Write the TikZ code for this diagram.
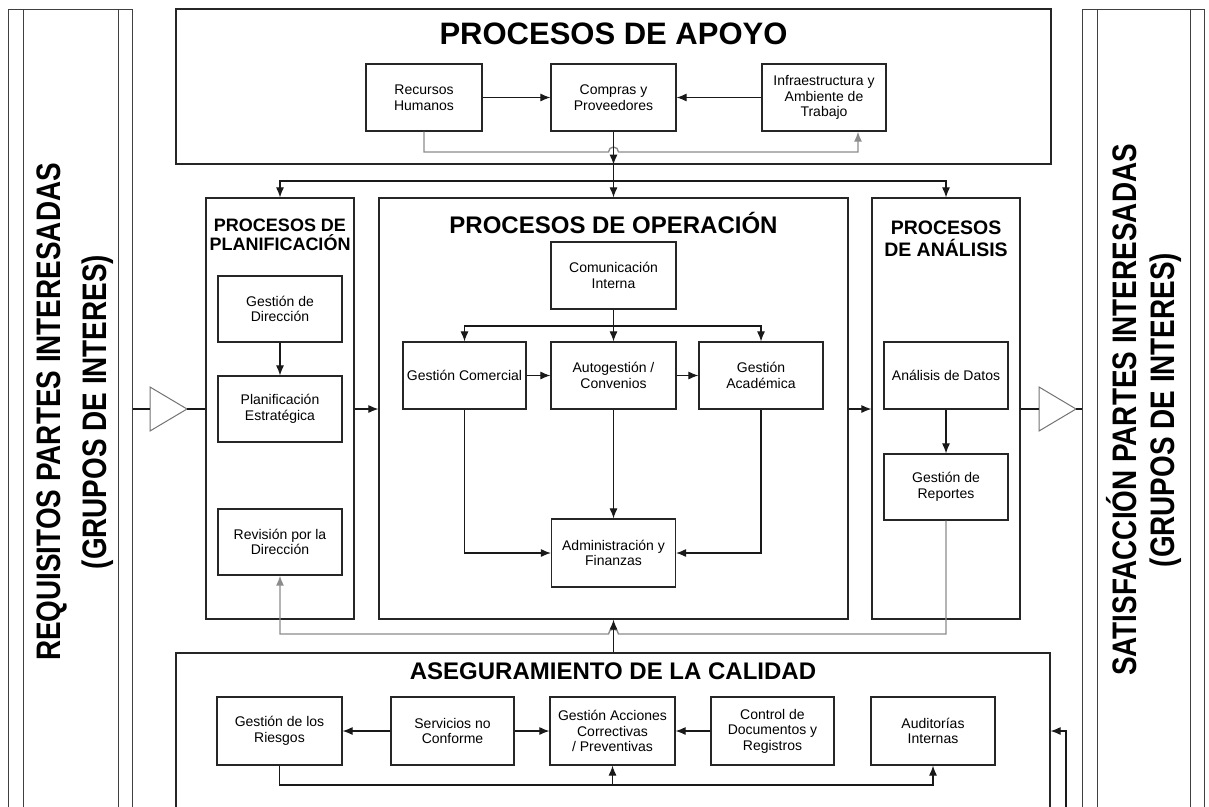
\documentclass[tikz,border=0pt]{standalone}
\usepackage{fontspec}
\setmainfont{Liberation Sans}
\newfontfamily\narrowfont[FakeStretch=0.82]{Liberation Sans}
\usetikzlibrary{arrows.meta,positioning,calc}

\begin{document}
\begin{tikzpicture}[x=1pt,y=-1pt,
    proc/.style={draw=black!85,line width=1.2pt,fill=white,align=center,inner sep=1pt,
      minimum width=124pt,minimum height=67pt,font=\fontsize{14}{15.5}\selectfont},
    area/.style={draw=black!85,line width=1.2pt,inner sep=0pt},
    band/.style={draw=black!75,line width=1pt,inner sep=0pt},
    tri/.style={draw=black!55,line width=1pt,fill=white},
    arr/.style={draw=black!90,line width=1.1pt,-{Latex[length=10pt,width=8pt]}},
    link/.style={draw=black!90,line width=1.1pt},
    gline/.style={draw=black!45,line width=1.4pt,-{Latex[length=10pt,width=8pt]}},
    bandtext/.style={rotate=90,align=center},
    head/.style={font=\bfseries\fontsize{24}{28}\selectfont,align=center}]

  \useasboundingbox[fill=white] (0,0) rectangle (1209,806);

  % bandas laterales
  \node[band,minimum width=124pt,minimum height=822pt] (reqband) at (70,420) {};
  \draw[band] (23,9) -- (23,840) (118,9) -- (118,840);
  \node[bandtext,font=\narrowfont\bfseries\fontsize{34}{46}\selectfont] (reqtxt) at (75,412)
    {REQUISITOS PARTES INTERESADAS\\(GRUPOS DE INTERES)};
  \node[band,minimum width=122pt,minimum height=822pt] (satband) at (1143,420) {};
  \draw[band] (1097,9) -- (1097,840) (1190,9) -- (1190,840);
  \node[bandtext,font=\narrowfont\bfseries\fontsize{34}{38}\selectfont] (sattxt) at (1144,410)
    {SATISFACCIÓN PARTES INTERESADAS\\(GRUPOS DE INTERES)};

  % procesos de apoyo
  \node[area,minimum width=875pt,minimum height=155pt] (apoyo) at (613.5,86.5) {};
  \node[font=\bfseries\fontsize{31}{36}\selectfont] (apoyot) at (613.5,34) {PROCESOS DE APOYO};
  \node[proc,minimum width=116pt] (rrhh) at (424,97.5) {Recursos\\Humanos};
  \node[proc,minimum width=125pt] (compras) at (613.5,97.5) {Compras y\\Proveedores};
  \node[proc] (infra) at (824,97.5) {Infraestructura y\\Ambiente de\\Trabajo};

  % planificacion
  \node[area,minimum width=148pt,minimum height=421pt] (plan) at (280,408.5) {};
  \node[head,font=\bfseries\fontsize{18}{19.5}\selectfont] (plant) at (280,235) {PROCESOS DE\\PLANIFICACIÓN};
  \node[proc,minimum height=66pt] (gdir) at (280,309) {Gestión de\\Dirección};
  \node[proc,minimum height=66pt] (pest) at (280,409) {Planificación\\Estratégica};
  \node[proc,minimum height=66pt] (revdir) at (280,542) {Revisión por la\\Dirección};

  % operacion
  \node[area,minimum width=469pt,minimum height=421pt] (op) at (613.5,408.5) {};
  \node[head] (opt) at (613.5,223) {PROCESOS DE OPERACIÓN};
  \node[proc,minimum width=125pt] (comint) at (613.5,275.5) {Comunicación\\Interna};
  \node[proc,minimum width=123pt] (gcom) at (464.5,375.5) {Gestión Comercial};
  \node[proc,minimum width=125pt] (autog) at (613.5,375.5) {Autogestión /\\Convenios};
  \node[proc] (gacad) at (761,375.5) {Gestión\\Académica};
  \node[proc,minimum height=68pt] (admfin) at (613.5,553) {Administración y\\Finanzas};

  % analisis
  \node[area,minimum width=148pt,minimum height=421pt] (ana) at (946,408.5) {};
  \node[head,font=\bfseries\fontsize{19.5}{22}\selectfont] (anat) at (946,239) {PROCESOS\\DE ANÁLISIS};
  \node[proc] (adat) at (946,375.5) {Análisis de Datos};
  \node[proc,minimum height=66pt] (grep) at (946,487) {Gestión de\\Reportes};

  % aseguramiento
  \node[area,minimum width=874pt,minimum height=190pt] (aseg) at (613,748) {};
  \node[head] (asegt) at (613,671) {ASEGURAMIENTO DE LA CALIDAD};
  \node[proc,minimum width=125pt,minimum height=68pt] (ries) at (279.5,731) {Gestión de los\\Riesgos};
  \node[proc,minimum width=123pt,minimum height=68pt] (serv) at (452.5,731) {Servicios no\\Conforme};
  \node[proc,minimum width=125pt,minimum height=68pt] (gacp) at (612.5,731) {Gestión Acciones\\Correctivas\\/ Preventivas};
  \node[proc,minimum width=123pt,minimum height=68pt] (ctrl) at (772.5,731) {Control de\\Documentos y\\Registros};
  \node[proc,minimum height=68pt] (aud) at (933,731) {Auditorías\\Internas};

  % entradas y salidas
  \draw[tri] (150,387) -- (187,409) -- (150,431) -- cycle;
  \coordinate (inL) at (150,409);
  \coordinate (inR) at (187,409);
  \draw[link] (reqband.east |- inL) -- (inL);
  \draw[link] (inR) -- (inR -| plan.west);
  \draw[tri] (1039,387) -- (1076,409) -- (1039,431) -- cycle;
  \coordinate (outL) at (1039,409);
  \coordinate (outR) at (1076,409);
  \draw[link] (ana.east |- outL) -- (outL);
  \draw[link] (outR) -- (outR -| satband.west);

  % conexiones
  \coordinate (hopA) at (613.5,152);
  \draw[gline] (rrhh.south) |- ([xshift=-5pt]hopA) arc[start angle=180,end angle=0,radius=5pt]
    -| ([xshift=34pt]infra.south);
  \draw[arr] (rrhh) -- (compras);
  \draw[arr] (infra) -- (compras);
  \draw[arr] (compras) -- (compras |- apoyo.south);
  \draw[arr] (compras |- apoyo.south) -- (op.north);
  \coordinate (splitA) at (613.5,181);
  \draw[arr] (splitA) -| (plan.north);
  \draw[arr] (splitA) -| (ana.north);

  \draw[arr] (gdir) -- (pest);
  \draw[arr] (pest -| plan.east) -- (pest -| op.west);
  \draw[arr] (pest -| op.east) -- (pest -| ana.west);

  \draw[arr] (comint) -- (autog);
  \coordinate (splitB) at (613.5,326);
  \draw[arr] (splitB) -| (gcom.north);
  \draw[arr] (splitB) -| (gacad.north);
  \draw[arr] (gcom) -- (autog);
  \draw[arr] (autog) -- (gacad);
  \draw[arr] (gcom.south) |- (admfin.west);
  \draw[arr] (autog) -- (admfin);
  \draw[arr] (gacad.south) |- (admfin.east);

  \draw[arr] (adat) -- (grep);
  \coordinate (hopB) at (613.5,634);
  \draw[gline] (grep.south) |- ([xshift=5pt]hopB) arc[start angle=0,end angle=180,radius=5pt]
    -| (revdir.south);
  \draw[arr] (aseg.north -| op.south) -- (op.south);

  \draw[arr] (serv) -- (ries);
  \draw[arr] (serv) -- (gacp);
  \draw[arr] (ctrl) -- (gacp);
  \coordinate (loopC) at (612.5,785);
  \draw[arr] (ries.south) |- (loopC) -| (aud.south);
  \draw[arr] (loopC) -- (gacp.south);
  \coordinate (fback) at (1066,840);
  \draw[arr] (fback) |- (aseg.east |- aud);
\end{tikzpicture}
\end{document}
